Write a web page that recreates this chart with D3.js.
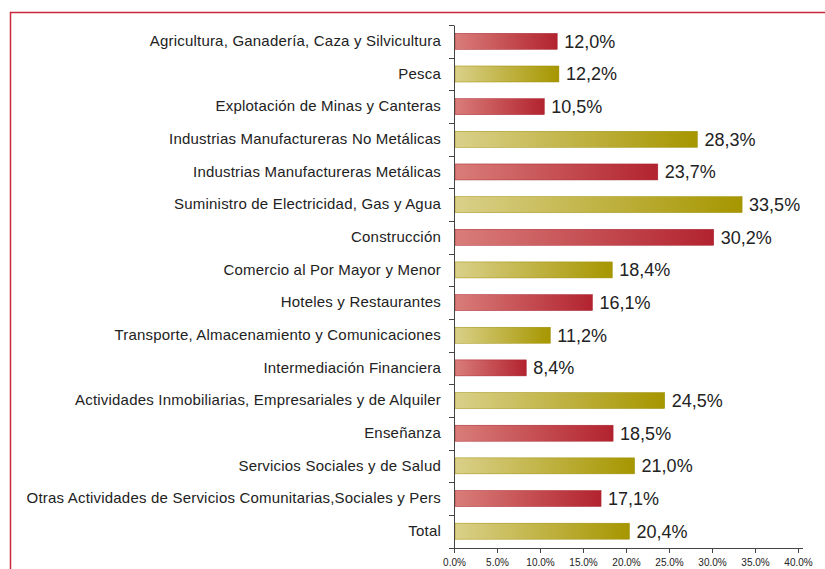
<!DOCTYPE html>
<html>
<head>
<meta charset="utf-8">
<script src="https://cdn.jsdelivr.net/npm/d3@7"></script>
<style>
  body { margin: 0; background: #fff; }
  svg { display: block; font-family: "Liberation Sans", Arial, sans-serif; }
</style>
</head>
<body>
<div id="wrapper"></div>
<script>
const categories = [
  "Agricultura, Ganadería, Caza y Silvicultura",
  "Pesca",
  "Explotación de Minas y Canteras",
  "Industrias Manufactureras No Metálicas",
  "Industrias Manufactureras Metálicas",
  "Suministro de Electricidad, Gas y Agua",
  "Construcción",
  "Comercio al Por Mayor y Menor",
  "Hoteles y Restaurantes",
  "Transporte, Almacenamiento y Comunicaciones",
  "Intermediación Financiera",
  "Actividades Inmobiliarias, Empresariales y de Alquiler",
  "Enseñanza",
  "Servicios Sociales y de Salud",
  "Otras Actividades de Servicios Comunitarias,Sociales y Pers",
  "Total"
];
const values = [12.0, 12.2, 10.5, 28.3, 23.7, 33.5, 30.2, 18.4, 16.1, 11.2, 8.4, 24.5, 18.5, 21.0, 17.1, 20.4];
const xTicks = [0, 5, 10, 15, 20, 25, 30, 35, 40];

const data = categories.map((c, i) => ({ name: c, value: values[i], i: i }));

let dimensions = {
  width: 825,
  height: 569,
  margin: { top: 25, right: 27, bottom: 21, left: 454 }
};
dimensions.boundedWidth = dimensions.width - dimensions.margin.left - dimensions.margin.right;
dimensions.boundedHeight = dimensions.height - dimensions.margin.top - dimensions.margin.bottom;

const svg = d3.select("#wrapper").append("svg")
  .attr("width", dimensions.width)
  .attr("height", dimensions.height);

// gradients
const defs = svg.append("defs");
const grads = [
  { id: "gRed", from: "#d97d79", to: "#b2232f", stroke: "#a8202b" },
  { id: "gGold", from: "#dad089", to: "#a69600", stroke: "#9c8c00" }
];
grads.forEach(g => {
  const lg = defs.append("linearGradient").attr("id", g.id)
    .attr("x1", "0%").attr("x2", "100%").attr("y1", "0%").attr("y2", "0%");
  lg.append("stop").attr("offset", "0%").attr("stop-color", g.from);
  lg.append("stop").attr("offset", "100%").attr("stop-color", g.to);
});

// border
svg.append("path")
  .attr("d", `M10.5,${dimensions.height} V12.5 H${dimensions.width}`)
  .attr("fill", "none")
  .attr("stroke", "#c9283a")
  .attr("stroke-width", 1.5);

const container = svg.append("g")
  .attr("transform", `translate(${dimensions.margin.left},${dimensions.margin.top})`);

const xScale = d3.scaleLinear()
  .domain([0, 40])
  .range([0, 344]);

const yScale = d3.scaleBand()
  .domain(categories)
  .range([0, dimensions.boundedHeight - 0.5]);

// bars
container.append("g").selectAll("rect")
  .data(data)
  .enter()
  .append("rect")
  .attr("x", 1)
  .attr("y", d => yScale(d.name) + yScale.bandwidth() / 2 - 8)
  .attr("width", d => xScale(d.value) - 1)
  .attr("height", 16)
  .attr("fill", d => d.i % 2 === 0 ? "url(#gRed)" : "url(#gGold)")
  .attr("stroke", d => d.i % 2 === 0 ? grads[0].stroke : grads[1].stroke)
  .attr("stroke-width", 0.5);

// value labels
container.append("g").selectAll("text")
  .data(data)
  .enter()
  .append("text")
  .attr("x", d => xScale(d.value) + 7)
  .attr("y", d => yScale(d.name) + yScale.bandwidth() / 2)
  .attr("dy", "0.36em")
  .attr("font-size", 18)
  .attr("fill", "#222")
  .text(d => d.value.toFixed(1).replace(".", ",") + "%");

// y axis
const yAxisGen = d3.axisLeft(yScale).tickSize(0).tickPadding(13);
const axisY = container.append("g").call(yAxisGen);
axisY.select(".domain").attr("stroke", "#444").attr("stroke-width", 1);
axisY.selectAll("text").attr("font-size", 15).attr("fill", "#222")
  .attr("letter-spacing", "0.2px")
  .attr("font-family", "\"Liberation Sans\", Arial, sans-serif");

// y ticks between bands
const bounds = categories.map(c => yScale(c)).concat([dimensions.boundedHeight - 0.5]);
container.append("g").selectAll("line")
  .data(bounds)
  .enter()
  .append("line")
  .attr("x1", -5).attr("x2", 0)
  .attr("y1", d => Math.round(d) + 0.5).attr("y2", d => Math.round(d) + 0.5)
  .attr("stroke", "#444");

// x axis
const xAxisGen = d3.axisBottom(xScale)
  .tickValues(xTicks)
  .tickSize(5)
  .tickPadding(6)
  .tickFormat(d => d.toFixed(1) + "%");
const axisX = container.append("g")
  .attr("transform", `translate(0,${dimensions.boundedHeight})`)
  .call(xAxisGen);
axisX.select(".domain").attr("d", "M0,0.5H349").attr("stroke", "#444");
axisX.selectAll(".tick line").attr("stroke", "#444");
axisX.selectAll("text").attr("font-size", 10).attr("fill", "#222")
  .attr("font-family", "\"Liberation Sans\", Arial, sans-serif");
</script>
</body>
</html>
